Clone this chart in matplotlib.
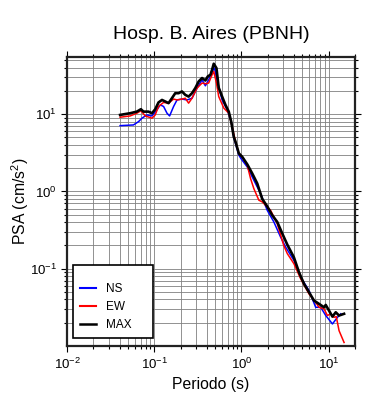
import matplotlib
matplotlib.use("Agg")
import matplotlib.pyplot as plt
from matplotlib.ticker import LogLocator, NullFormatter, LogFormatterMathtext

plt.rcParams['font.family'] = ['Liberation Sans', 'DejaVu Sans']
plt.rcParams['mathtext.fontset'] = 'custom'
plt.rcParams['mathtext.rm'] = 'Liberation Sans'
plt.rcParams['mathtext.it'] = 'Liberation Sans:italic'
plt.rcParams['mathtext.bf'] = 'Liberation Sans:bold'

title = "Hosp. B. Aires (PBNH)"
xlabel = "Periodo (s)"
ylabel = "PSA (cm/s$^2$)"

# MAX
t_max = [0.0406, 0.053, 0.0632, 0.0703, 0.0753, 0.0859, 0.0942, 0.1026, 0.1119, 0.1227,
         0.1337, 0.1458, 0.1594, 0.1741, 0.19, 0.2078, 0.2268, 0.2477, 0.2708, 0.2958,
         0.3228, 0.3532, 0.3855, 0.4105, 0.4406, 0.4603, 0.4808, 0.5164, 0.5483, 0.5998,
         0.6546, 0.7145, 0.7621, 0.8152, 0.8531, 0.9311, 1.019, 1.163, 1.328, 1.515,
         1.729, 1.973, 2.252, 2.57, 2.936, 3.35, 3.991, 4.557, 5.2, 5.937,
         6.776, 7.735, 8.831, 9.24, 10.08, 11.03, 12.03, 13.13, 14.99]
psa_max = [9.79, 10.3, 10.8, 11.6, 10.8, 10.8, 10.3, 11.6, 14.2, 15.3,
           14.6, 13.9, 16.1, 18.7, 18.7, 19.7, 17.8, 16.9, 18.7, 21.8,
           26.5, 29.4, 27.3, 30.8, 32.4, 37.6, 45.0, 39.5, 22.0, 16.9,
           13.2, 10.8, 8.02, 5.12, 4.41, 3.12, 2.81, 2.25, 1.71, 1.27,
           0.80, 0.64, 0.492, 0.403, 0.285, 0.205, 0.14, 0.0903, 0.0638, 0.0497,
           0.0387, 0.0351, 0.0317, 0.0340, 0.0287, 0.0240, 0.0273, 0.0248, 0.0261]

# NS
t_ns = [0.0406, 0.0578, 0.0661, 0.0723, 0.0824, 0.0942, 0.1074, 0.1173, 0.1279, 0.14,
        0.15, 0.1667, 0.1824, 0.2078, 0.2377, 0.2708, 0.3097, 0.3532, 0.3855, 0.4207,
        0.4603, 0.4898, 0.5351, 0.5998, 0.6855, 0.7621, 0.8152, 0.9311, 0.982, 1.163,
        1.385, 1.653, 1.973, 2.35, 2.807, 3.204, 3.991, 4.766, 5.937, 7.09,
        8.09, 9.24, 11.03, 12.59, 13.74]
psa_ns = [7.11, 7.26, 8.02, 8.88, 9.79, 9.5, 11.4, 13.2, 12.6, 10.3,
          9.5, 12.6, 15.3, 15.7, 15.3, 16.1, 21.8, 27.8, 23.3, 27.8,
          35.7, 39.5, 25.3, 15.3, 11.4, 8.02, 5.0, 2.97, 2.68, 2.08,
          1.40, 0.942, 0.571, 0.403, 0.257, 0.191, 0.128, 0.0778, 0.0523, 0.0317,
          0.0317, 0.0248, 0.0193, 0.0235, 0.0261]

# EW
t_ew = [0.0406, 0.053, 0.0632, 0.0703, 0.0789, 0.0942, 0.1026, 0.1119, 0.1279, 0.1458,
        0.1667, 0.1824, 0.2078, 0.2268, 0.2477, 0.2708, 0.3097, 0.3532, 0.3855, 0.4207,
        0.4603, 0.4808, 0.5164, 0.5483, 0.6271, 0.7145, 0.782, 0.8531, 0.9311, 1.019,
        1.163, 1.268, 1.385, 1.581, 1.729, 1.973, 2.153, 2.57, 3.05, 3.35,
        3.991, 4.766, 5.937, 7.09, 7.735, 8.831, 9.66, 10.54, 11.51, 12.2,
        13.13, 14.99]
psa_ew = [9.14, 9.5, 10.3, 11.1, 9.5, 8.88, 9.79, 12.6, 14.2, 13.9,
          15.7, 15.3, 15.7, 16.1, 13.9, 16.1, 21.8, 25.3, 24.8, 25.3,
          32.4, 35.7, 25.3, 16.9, 12.0, 10.3, 6.9, 4.41, 3.12, 2.79,
          2.2, 1.48, 1.09, 0.771, 0.733, 0.631, 0.571, 0.384, 0.20, 0.157,
          0.116, 0.0742, 0.0473, 0.0368, 0.0317, 0.0303, 0.0248, 0.0261, 0.0235, 0.0240,
          0.0158, 0.0111]

fig = plt.figure(figsize=(3.9, 4.0), dpi=100)
ax = fig.add_axes([67/390, 1-346/400, (355-67)/390, (346-57)/400])

ax.plot(t_ns, psa_ns, color='#0000ff', lw=1.1, label='NS', zorder=3)
ax.plot(t_ew, psa_ew, color='#ff0000', lw=1.1, label='EW', zorder=4)
ax.plot(t_max, psa_max, color='black', lw=1.9, label='MAX', zorder=5)

ax.set_xscale('log')
ax.set_yscale('log')

ax.set_xticks([0.01, 0.1, 1, 10])
ax.set_yticks([0.1, 1, 10])
for axis in (ax.xaxis, ax.yaxis):
    axis.set_minor_locator(LogLocator(base=10, subs=range(2, 10), numticks=10))
    axis.set_minor_formatter(NullFormatter())
    axis.set_major_formatter(LogFormatterMathtext())
ax.set_xlim(0.01, 20)
ax.set_ylim(0.01, 55)

ax.grid(True, which='both', color='#808080', lw=0.6)
ax.set_axisbelow(True)

ax.tick_params(which='both', direction='out', top=True, right=True, labelsize=9.5,
               colors='black', width=0.8)
ax.tick_params(which='major', length=4.5, pad=3)
ax.tick_params(which='minor', length=2.5)
for s in ax.spines.values():
    s.set_linewidth(1.6)
    s.set_color('#222222')

ax.set_title(title, fontsize=14, pad=13)
ax.set_xlabel(xlabel, fontsize=11.3, labelpad=4)
ax.set_ylabel(ylabel, fontsize=11.3, labelpad=-1)

leg = ax.legend(loc='lower left', bbox_to_anchor=(0.0208, 0.0277, 0.278, 0.249),
                mode='expand', fontsize=8.5, frameon=True, fancybox=False,
                handlelength=1.35, borderpad=0.6, labelspacing=0.5,
                handletextpad=0.85, borderaxespad=0.0,
                title=' ', title_fontproperties={'size': 4})
leg.get_frame().set_edgecolor('black')
leg.get_frame().set_linewidth(1.2)
leg.get_frame().set_alpha(1)
for ln in leg.get_lines():
    ln.set_linewidth(1.5)
leg.get_lines()[2].set_linewidth(1.8)
fig.savefig('out.png', dpi=100)
